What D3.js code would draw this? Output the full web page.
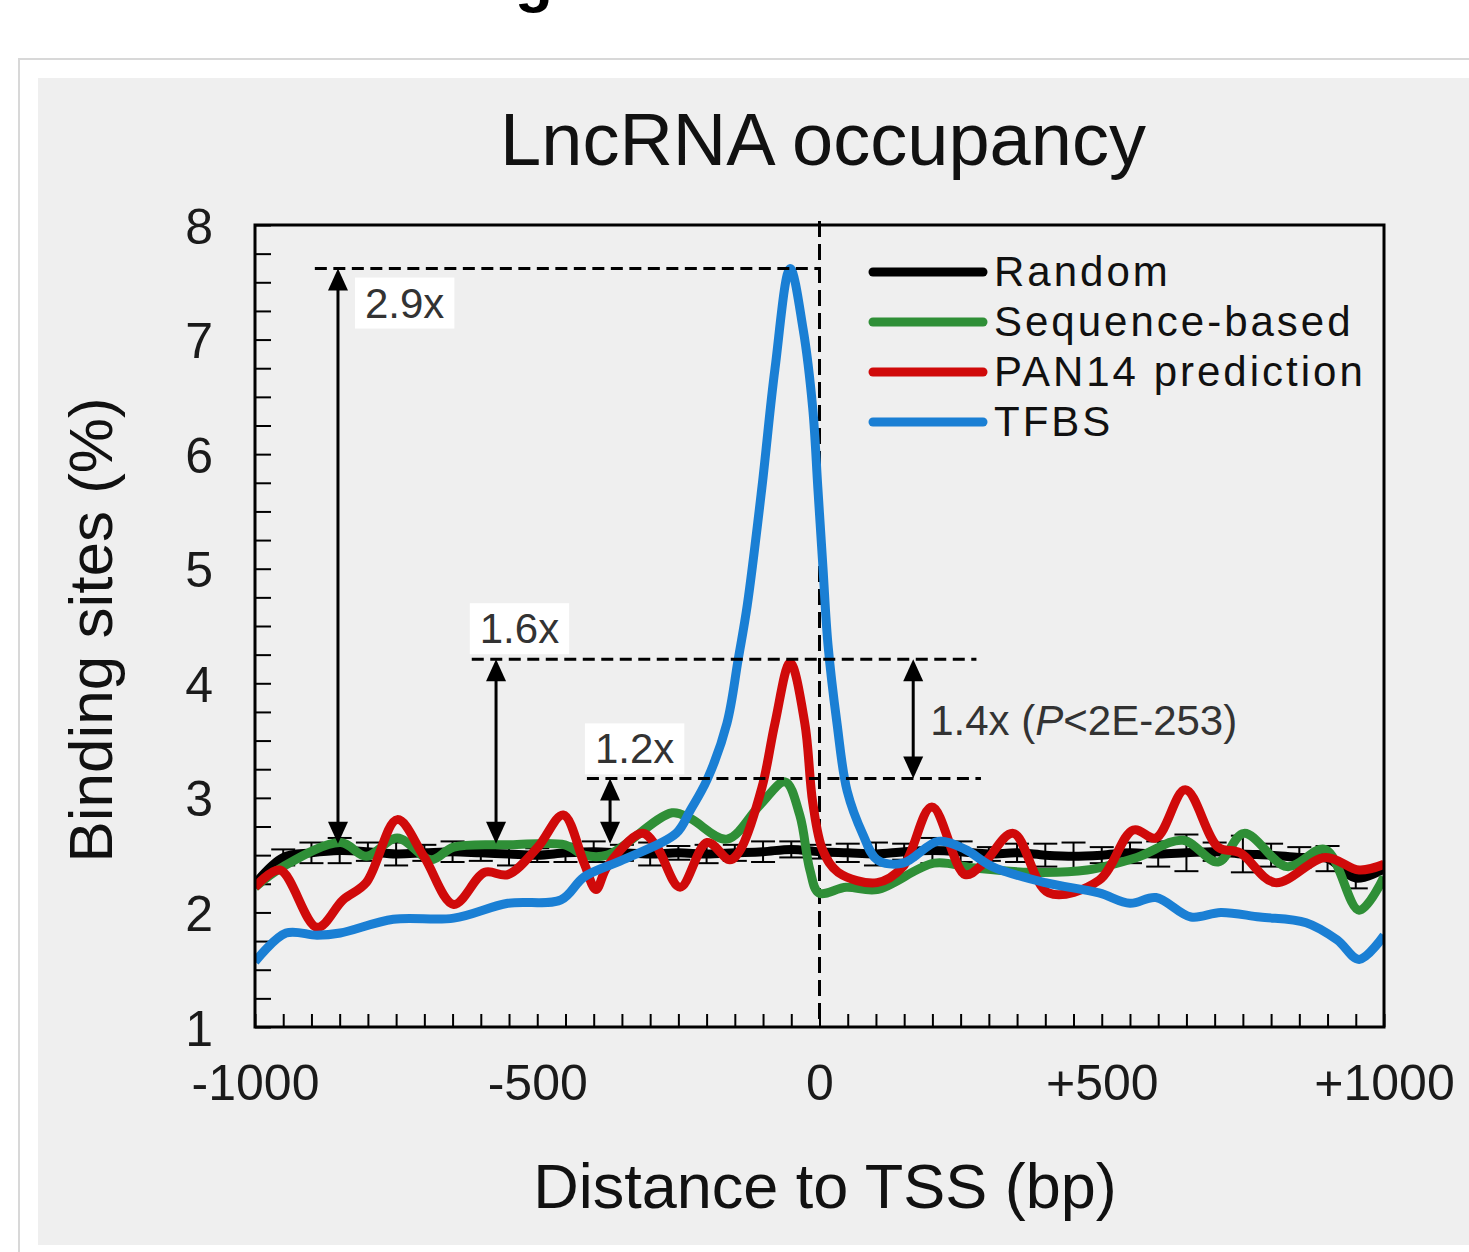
<!DOCTYPE html>
<html>
<head>
<meta charset="utf-8">
<script src="https://cdn.jsdelivr.net/npm/d3@7"></script>
<style>
body { margin: 0; background: #fff; }
svg { display: block; font-family: "Liberation Sans", Arial, sans-serif; }
</style>
</head>
<body>
<svg id="svg" width="1469" height="1252"></svg>
<script>
// values: x = distance to TSS (bp), y = binding sites (%)
var randomBp = [-1000,-950,-900,-850,-800,-750,-700,-650,-600,-550,-500,-450,-400,-350,-300,-250,-200,-150,-100,-50,0,50,100,150,200,250,300,350,400,450,500,550,600,650,700,750,800,850,900,950,1000];
var randomVal = [2.25,2.48,2.52,2.54,2.53,2.51,2.52,2.53,2.52,2.51,2.50,2.52,2.53,2.52,2.51,2.52,2.51,2.52,2.53,2.55,2.53,2.52,2.51,2.53,2.54,2.53,2.51,2.52,2.50,2.49,2.50,2.52,2.51,2.52,2.53,2.51,2.50,2.48,2.47,2.30,2.38];
var randomErr = [0,0.07,0.09,0.11,0.08,0.10,0.07,0.09,0.07,0.10,0.06,0.08,0.09,0.07,0.10,0.06,0.08,0.07,0.09,0.07,0.06,0.08,0.10,0.07,0.11,0.09,0.06,0.08,0.10,0.12,0.07,0.09,0.11,0.16,0.08,0.16,0.10,0.09,0.11,0.09,0];

var seqBp = [-1000,-950,-848,-803,-748,-688,-648,-548,-451,-417,-376,-261,-229,-164,-105,-61,-35,-17,-1,47,102,203,270,373,474,562,644,706,752,828,896,956,1000];
var seqVal = [2.22,2.40,2.61,2.49,2.65,2.46,2.57,2.59,2.59,2.50,2.50,2.87,2.82,2.64,2.94,3.14,2.85,2.37,2.17,2.22,2.20,2.43,2.39,2.35,2.37,2.48,2.63,2.44,2.69,2.40,2.55,2.02,2.31];

var panBp = [-1000,-956,-890,-844,-803,-748,-701,-648,-593,-552,-499,-454,-417,-396,-376,-314,-288,-247,-199,-159,-141,-102,-79,-52,-26,-12,6,33,102,148,199,258,291,343,406,495,556,596,648,706,745,807,896,956,1000];
var panVal = [2.22,2.37,1.87,2.11,2.26,2.81,2.49,2.07,2.35,2.33,2.57,2.85,2.43,2.20,2.40,2.69,2.57,2.22,2.61,2.46,2.54,3.09,3.65,4.18,3.65,2.96,2.54,2.35,2.26,2.40,2.92,2.33,2.43,2.69,2.17,2.28,2.72,2.65,3.07,2.57,2.52,2.26,2.48,2.37,2.42];

var tfbsBp = [-1000,-945,-890,-849,-755,-648,-552,-458,-417,-348,-254,-229,-199,-164,-144,-128,-102,-79,-52,-29,-12,-3,6,15,31,49,77,102,148,210,258,306,400,495,550,596,658,711,780,862,917,956,1000];
var tfbsVal = [1.57,1.82,1.80,1.82,1.94,1.95,2.08,2.11,2.31,2.46,2.69,2.89,3.16,3.65,4.21,4.68,5.71,6.74,7.62,7.09,6.40,5.71,5.02,4.34,3.65,3.06,2.68,2.46,2.43,2.62,2.55,2.40,2.26,2.17,2.08,2.13,1.96,2.00,1.96,1.91,1.76,1.59,1.80];

var seriesNames = ["Random", "Sequence-based", "PAN14 prediction", "TFBS"];
var seriesColors = ["#000000", "#2f8f37", "#d00a0a", "#1a7fd4"];

var yTicks = [1, 2, 3, 4, 5, 6, 7, 8];
var xTicks = [-1000, -500, 0, 500, 1000];
var xTickLabels = ["-1000", "-500", "0", "+500", "+1000"];

// fold-change annotations (levels in % of binding sites)
var foldLabels = ["2.9x", "1.6x", "1.2x"];
var foldTop = [7.62, 4.21, 3.17];
var foldBase = 2.6;
var foldArrowBp = [-853, -573, -371];
var foldLineFrom = [-894, -616, -412];
var foldLineTo = [0, 278, 286];
var pairArrowBp = 166;

//======================================================================

var svg = d3.select("#svg");
var plotL = 255, plotR = 1384, plotT = 225, plotB = 1027;

var x = d3.scaleLinear().domain([-1000, 1000]).range([plotL, plotR]);
var y = d3.scaleLinear().domain([1, 8]).range([plotB, plotT]);

// page and card
svg.append("rect").attr("width", 1469).attr("height", 1252).attr("fill", "#fff");
svg.append("text").attr("x", 515).attr("y", 0).attr("font-size", 62)
  .attr("font-weight", "bold").attr("fill", "#000").text("g");
svg.append("rect").attr("x", 19).attr("y", 59).attr("width", 1480).attr("height", 1230)
  .attr("fill", "#fff").attr("stroke", "#d8d8d8").attr("stroke-width", 2);
svg.append("rect").attr("x", 38).attr("y", 78).attr("width", 1440).attr("height", 1167)
  .attr("fill", "#efefef");

// title
svg.append("text").attr("x", 823).attr("y", 165).attr("text-anchor", "middle")
  .attr("font-size", 74).attr("fill", "#111").text("LncRNA occupancy");

// minor ticks (every 0.25 % and every 50 bp), drawn inward
var yMinor = d3.range(1, 8.001, 0.25);
var xMinor = d3.range(-1000, 1000.1, 50);

var gy = svg.append("g").attr("transform", "translate(" + plotL + ",0)")
  .call(d3.axisLeft(y).tickValues(yMinor).tickSize(-16).tickSizeOuter(0).tickFormat(""));
gy.selectAll(".tick line").attr("stroke-width", 2);

var gx = svg.append("g").attr("transform", "translate(0," + plotB + ")")
  .call(d3.axisBottom(x).tickValues(xMinor).tickSize(-13).tickSizeOuter(0).tickFormat(""));
gx.selectAll(".tick line").attr("stroke-width", 2);

var gyl = svg.append("g").attr("transform", "translate(" + plotL + ",0)")
  .call(d3.axisLeft(y).tickValues(yTicks).tickSize(0).tickPadding(42).tickFormat(d3.format("d")));
gyl.select(".domain").remove();
gyl.selectAll("text").attr("font-size", 50).attr("font-family", null).attr("fill", "#1a1a1a")
  .attr("dy", "0.36em");

var gxl = svg.append("g").attr("transform", "translate(0," + plotB + ")")
  .call(d3.axisBottom(x).tickValues(xTicks).tickSize(0).tickFormat(function(d, i) { return xTickLabels[i]; }));
gxl.select(".domain").remove();
gxl.selectAll("text").attr("font-size", 50).attr("font-family", null).attr("fill", "#1a1a1a")
  .attr("y", 73).attr("dy", 0);

// axis titles
svg.append("text").attr("transform", "translate(112,630) rotate(-90)")
  .attr("text-anchor", "middle").attr("font-size", 62).attr("fill", "#111")
  .text("Binding sites (%)");
svg.append("text").attr("x", 825).attr("y", 1208).attr("text-anchor", "middle")
  .attr("font-size", 63).attr("fill", "#111").text("Distance to TSS (bp)");

// TSS line
svg.append("line").attr("x1", x(0)).attr("x2", x(0)).attr("y1", y(8) - 4).attr("y2", y(1))
  .attr("stroke", "#000").attr("stroke-width", 3).attr("stroke-dasharray", "16,7");

// annotation dashed levels
var ann = svg.append("g");
foldLabels.forEach(function(lab, i) {
  ann.append("line").attr("x1", x(foldLineFrom[i])).attr("x2", x(foldLineTo[i]))
    .attr("y1", y(foldTop[i])).attr("y2", y(foldTop[i]))
    .attr("stroke", "#000").attr("stroke-width", 3).attr("stroke-dasharray", "12,6.5");
});

// series lines
svg.append("clipPath").attr("id", "clip").append("rect")
  .attr("x", plotL).attr("y", plotT).attr("width", plotR - plotL).attr("height", plotB - plotT);
var plot = svg.append("g").attr("clip-path", "url(#clip)");

var line = d3.line()
  .x(function(d) { return x(d[0]); })
  .y(function(d) { return y(d[1]); })
  .curve(d3.curveCatmullRom.alpha(0.5));

var series = [
  d3.zip(randomBp, randomVal),
  d3.zip(seqBp, seqVal),
  d3.zip(panBp, panVal),
  d3.zip(tfbsBp, tfbsVal)
];

series.forEach(function(s, i) {
  plot.append("path").datum(s).attr("d", line).attr("fill", "none")
    .attr("stroke", seriesColors[i]).attr("stroke-width", 9)
    .attr("stroke-linejoin", "round");
  if (i == 0) {
    // error bars on the random control
    var eb = plot.append("g").attr("stroke", "#000").attr("stroke-width", 2);
    randomBp.forEach(function(bp, j) {
      if (randomErr[j] <= 0) return;
      var cx = x(bp), y1 = y(randomVal[j] - randomErr[j]), y2 = y(randomVal[j] + randomErr[j]);
      eb.append("line").attr("x1", cx).attr("x2", cx).attr("y1", y1).attr("y2", y2);
      eb.append("line").attr("x1", cx - 12).attr("x2", cx + 12).attr("y1", y1).attr("y2", y1);
      eb.append("line").attr("x1", cx - 12).attr("x2", cx + 12).attr("y1", y2).attr("y2", y2);
    });
  }
});

// frame
svg.append("rect").attr("x", plotL).attr("y", plotT)
  .attr("width", plotR - plotL).attr("height", plotB - plotT)
  .attr("fill", "none").attr("stroke", "#000").attr("stroke-width", 3);

// double arrows
function arrow(bp, vTop, vBot) {
  var ax = x(bp), y1 = y(vTop), y2 = y(vBot);
  ann.append("line").attr("x1", ax).attr("x2", ax).attr("y1", y1 + 12).attr("y2", y2 - 12)
    .attr("stroke", "#000").attr("stroke-width", 3);
  ann.append("path").attr("d", "M" + ax + "," + y1 + " l-10,22 l20,0 z").attr("fill", "#000");
  ann.append("path").attr("d", "M" + ax + "," + y2 + " l-10,-22 l20,0 z").attr("fill", "#000");
}
foldLabels.forEach(function(lab, i) { arrow(foldArrowBp[i], foldTop[i], foldBase); });
arrow(pairArrowBp, foldTop[1], foldTop[2]);
ann.raise();

// boxed fold labels
var labelPos = [
  [x(foldArrowBp[0]) + 27, y(foldTop[0]) + 49],
  [x(foldLineFrom[1]) + 8, y(foldTop[1]) - 16],
  [x(foldLineFrom[2]) + 8, y(foldTop[2]) - 15]
];
foldLabels.forEach(function(lab, i) {
  var g = svg.append("g");
  var t = g.append("text").attr("x", labelPos[i][0]).attr("y", labelPos[i][1])
    .attr("font-size", 42).attr("fill", "#333").text(lab);
  var b = t.node().getBBox();
  g.insert("rect", "text").attr("x", b.x - 10).attr("y", b.y - 2)
    .attr("width", b.width + 20).attr("height", b.height + 4).attr("fill", "#fff");
});

var pt = svg.append("text").attr("x", x(pairArrowBp) + 17)
  .attr("y", (y(foldTop[1]) + y(foldTop[2])) / 2 + 16)
  .attr("font-size", 42).attr("fill", "#333");
pt.append("tspan").text("1.4x (");
pt.append("tspan").attr("font-style", "italic").text("P");
pt.append("tspan").text("<2E-253)");

// legend
var leg = svg.append("g");
seriesNames.forEach(function(name, i) {
  var ly = 272 + i * 50;
  leg.append("line").attr("x1", 873).attr("x2", 983).attr("y1", ly).attr("y2", ly)
    .attr("stroke", seriesColors[i]).attr("stroke-width", 9).attr("stroke-linecap", "round");
  leg.append("text").attr("x", 994).attr("y", ly + 14).attr("font-size", 42)
    .attr("letter-spacing", 3).attr("fill", "#111").text(name);
});
</script>
</body>
</html>
